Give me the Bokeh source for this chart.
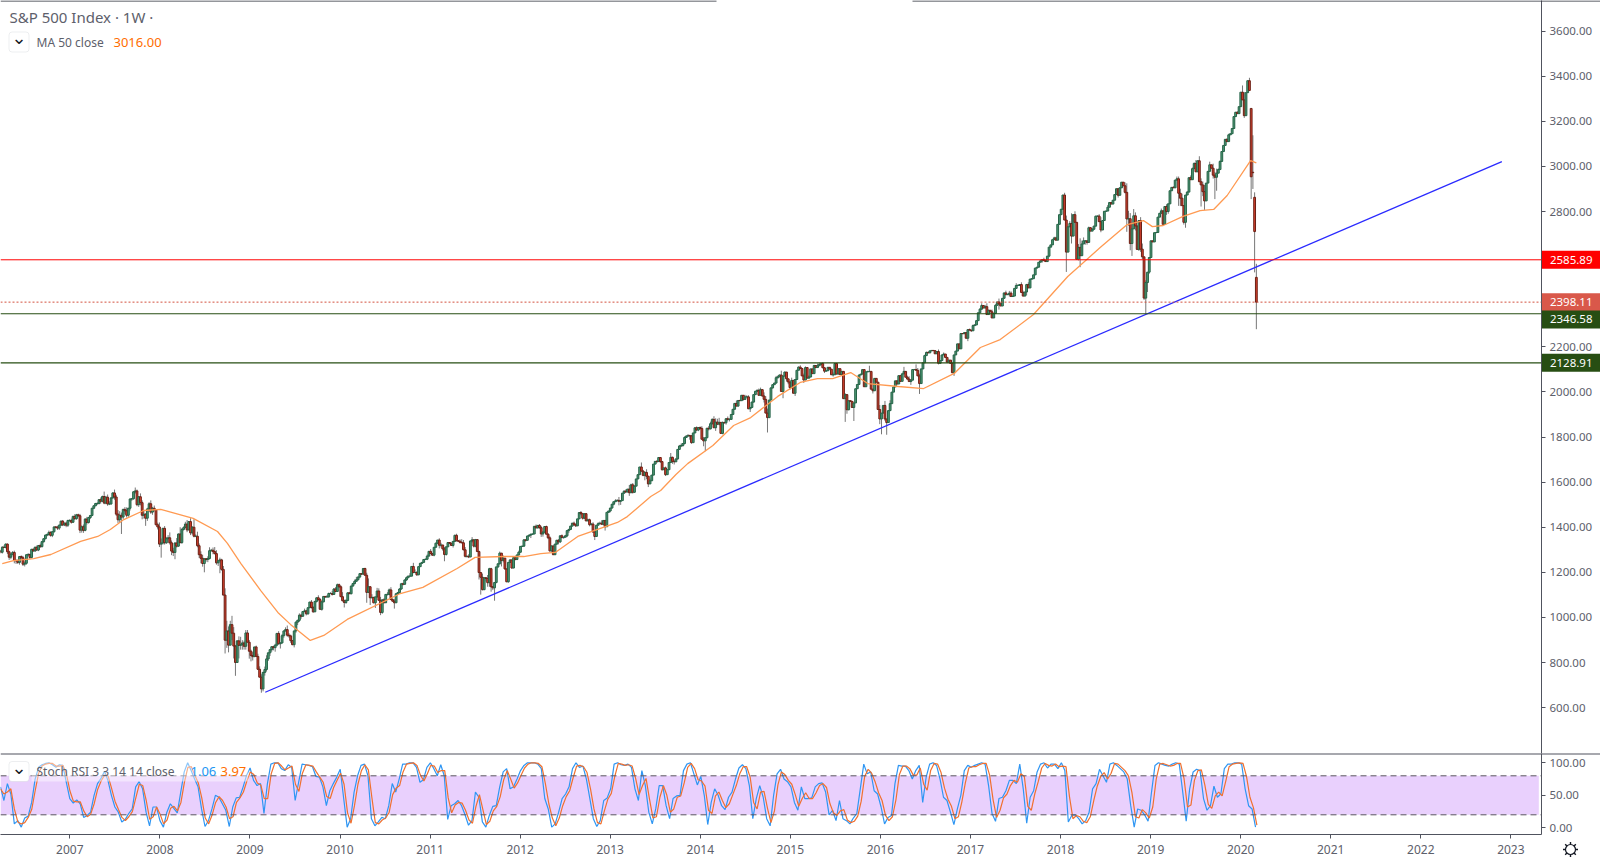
from bokeh.plotting import figure
from bokeh.models import (LinearAxis, FixedTicker, NumeralTickFormatter, Range1d, Span, Label,
                          BoxAnnotation, ColumnDataSource, Column)
from bokeh.embed import file_html
from bokeh.resources import INLINE
import numpy as np

TITLE = "S&P 500 Index · 1W ·"
MA_NAME = "MA 50 close"
MA_LAST = "3016.00"
STOCH_NAME = "Stoch RSI 3 3 14 14 close"
K_LAST = "1.06"
D_LAST = "3.97"

# weekly closes
c2006 = [1295,1289,1311,1310,1325,1291,1267,1280,1288,1252,1251,1244,1270,1265,1236,1240,1278,1279,1266,1302,1295,1311,1299,1319,1314,1336,1349,1365,1368,1377,1364,1380,1401,1400,1396,1409,1427,1410,1418]
c2007 = [1409,1430,1430,1422,1448,1438,1455,1451,1387,1402,1386,1436,1421,1443,1452,1484,1495,1505,1505,1522,1515,1536,1507,1533,1503,1503,1530,1552,1534,1458,1433,1453,1445,1479,1473,1453,1484,1525,1526,1557,1561,1500,1535,1509,1453,1458,1440,1481,1504,1467,1484,1478]
c2008 = [1411,1401,1325,1330,1395,1331,1349,1353,1331,1294,1288,1330,1316,1370,1332,1390,1398,1414,1388,1425,1375,1400,1360,1360,1318,1278,1262,1239,1260,1257,1261,1296,1298,1292,1283,1242,1251,1255,1213,1099,899,940,877,968,930,873,800,896,876,879,887,872]
c2009 = [931,890,850,831,826,869,827,770,735,683,756,769,816,843,857,870,866,877,929,883,887,919,940,946,921,918,897,879,940,979,987,1010,1005,1026,1029,1016,1043,1068,1044,1025,1071,1087,1079,1036,1069,1093,1091,1091,1106,1106,1102,1126,1115]
c2010 = [1145,1136,1092,1074,1066,1075,1109,1105,1139,1150,1160,1167,1179,1194,1192,1217,1187,1111,1136,1087,1089,1065,1091,1117,1076,1022,1078,1065,1102,1102,1122,1079,1072,1065,1105,1110,1126,1149,1147,1166,1176,1183,1183,1226,1199,1199,1189,1225,1240,1244,1257,1258]
c2011 = [1272,1293,1283,1276,1311,1329,1343,1320,1321,1304,1279,1313,1332,1329,1319,1337,1364,1340,1338,1333,1331,1300,1271,1271,1268,1339,1344,1316,1345,1292,1199,1178,1123,1176,1173,1154,1216,1136,1131,1155,1224,1238,1285,1253,1263,1215,1158,1244,1255,1219,1265,1257]
c2012 = [1277,1289,1315,1316,1344,1342,1361,1365,1369,1370,1404,1397,1408,1398,1370,1378,1403,1369,1353,1295,1317,1278,1325,1342,1335,1362,1354,1356,1362,1385,1390,1405,1418,1411,1406,1437,1465,1460,1440,1460,1428,1433,1411,1414,1379,1359,1409,1416,1418,1413,1430,1402]
c2013 = [1466,1472,1485,1502,1513,1517,1519,1515,1518,1551,1560,1556,1569,1553,1588,1555,1582,1614,1633,1667,1649,1630,1643,1626,1592,1606,1631,1680,1692,1691,1709,1691,1655,1663,1633,1655,1687,1710,1692,1690,1703,1745,1760,1762,1771,1798,1804,1806,1805,1775,1818,1841]
c2014 = [1831,1842,1838,1790,1783,1797,1839,1836,1859,1878,1841,1866,1857,1865,1816,1864,1863,1881,1878,1878,1900,1923,1949,1937,1962,1961,1985,1967,1978,1978,1925,1931,1955,1988,2003,2007,1985,2010,1982,1967,1906,1886,1964,2018,2032,2039,2063,2067,2075,2002,2070,2088]
c2015 = [2058,2044,2019,2051,1994,2055,2096,2110,2104,2071,2053,2108,2061,2066,2102,2081,2117,2108,2116,2122,2126,2107,2092,2094,2109,2101,2076,2076,2126,2079,2103,2077,2091,1970,1988,1921,1961,1958,1931,1951,2014,2033,2075,2079,2099,2023,2089,2090,2091,2012,2005,2060,2043]
c2016 = [1922,1880,1906,1940,1880,1864,1917,1948,1999,2022,2049,2035,2072,2047,2080,2091,2065,2057,2046,2052,2099,2099,2096,2071,2037,2102,2129,2161,2175,2173,2182,2184,2183,2169,2179,2127,2139,2164,2168,2153,2132,2141,2126,2085,2164,2181,2213,2191,2259,2258,2263,2238]
c2017 = [2276,2274,2271,2294,2297,2316,2351,2367,2383,2372,2378,2343,2362,2355,2328,2348,2384,2399,2390,2381,2415,2439,2431,2433,2438,2423,2425,2459,2472,2472,2476,2441,2425,2443,2476,2461,2500,2502,2519,2549,2553,2575,2581,2587,2582,2578,2602,2642,2652,2675,2683,2673]
c2018 = [2743,2786,2810,2873,2762,2620,2732,2747,2691,2786,2752,2588,2641,2604,2656,2670,2670,2663,2728,2713,2721,2735,2779,2780,2755,2718,2760,2801,2802,2819,2840,2833,2850,2875,2901,2872,2905,2930,2914,2885,2767,2768,2658,2723,2781,2736,2632,2760,2633,2599,2416,2485]
c2019 = [2531,2596,2670,2665,2706,2707,2775,2792,2803,2743,2822,2800,2834,2892,2907,2905,2939,2945,2881,2859,2826,2752,2873,2886,2950,2941,2990,3013,2976,3025,2932,2918,2888,2847,2926,2978,3007,2992,2961,2952,2970,2986,3022,3066,3093,3120,3110,3140,3145,3168,3221,3240]
c2020 = [3234,3265,3329,3295,3225,3327,3380,3337,2954,2972,2711,2398]
# gap opens of the last four weeks
last_opens = [3257,2974,2863,2508]

# lower wick length below the body, per week
d2006 = [3,5,6,2,4,10,12,9,5,12,14,7,10,5,8,10,6,6,8,4,4,5,5,5,6,4,5,3,5,6,6,8,4,5,8,8,4,5,5]
d2007 = [9,8,6,6,3,6,5,6,13,11,11,4,9,5,7,3,4,2,7,4,10,3,5,5,8,5,3,4,12,8,14,14,75,10,15,10,7,10,8,4,8,7,10,12,18,15,34,12,9,8,12,8]
d2008 = [3,11,13,60,7,8,5,20,8,18,16,30,6,3,4,6,5,2,10,2,10,8,5,4,7,15,22,14,39,10,12,4,4,12,4,8,14,55,6,1,59,34,32,0,31,55,59,0,58,19,22,15]
d2009 = [15,0,33,26,17,2,0,3,1,17,11,14,9,9,14,9,12,18,5,3,21,3,9,2,7,8,10,2,12,8,13,7,11,1,3,7,4,2,5,5,2,5,5,0,6,2,5,2,4,2,5,2,3]
d2010 = [2,6,2,3,22,6,2,0,3,2,4,1,3,5,4,2,2,46,3,32,2,3,23,3,3,12,6,2,1,5,4,2,3,26,1,3,4,4,5,3,4,2,0,1,3,2,5,2,1,3,2,2]
d2011 = [4,3,1,3,5,2,3,14,10,8,30,5,1,4,2,9,2,3,3,5,3,3,5,6,5,1,7,6,5,0,31,77,3,2,14,18,18,22,10,57,4,4,4,27,9,3,2,4,3,3,1,4]
d2012 = [3,3,2,3,3,6,2,3,13,3,1,2,3,5,13,12,3,1,6,4,4,1,0,4,11,5,3,5,2,6,10,0,2,2,5,1,0,7,6,3,1,1,7,2,4,16,0,1,1,1,5,17]
d2013 = [0,3,6,2,5,1,2,18,16,0,2,2,1,14,2,6,3,0,0,0,4,4,22,13,14,0,0,0,1,6,1,6,4,1,6,0,0,1,11,12,0,4,0,5,5,4,0,0,17,5,0,0]
d2014 = [4,5,5,0,24,46,3,7,2,4,0,14,4,5,2,4,4,8,8,9,0,2,2,0,1,1,1,6,3,0,0,14,1,3,2,1,0,1,3,14,0,66,2,0,4,0,0,4,0,0,30,0]
d2015 = [12,10,10,2,0,12,0,0,0,0,13,2,0,0,0,0,0,1,0,0,4,2,8,0,0,0,0,8,0,0,0,0,0,0,103,18,3,1,0,60,0,1,0,0,0,0,0,0,0,0,12,0,0]
d2016 = [0,23,68,0,8,54,0,2,0,0,0,2,0,3,0,0,0,3,0,15,0,0,0,0,46,0,0,0,0,0,0,0,0,0,0,5,3,0,0,3,4,0,0,2,14,0,0,0,0,0,0,0]
d2017 = [13,0,5,0,0,0,0,0,3,0,0,0,0,0,0,0,0,0,25,0,0,0,0,0,10,0,0,0,0,0,0,0,0,0,15,0,0,0,0,0,0,0,0,8,0,0,0,5,0,0,0,0]
d2018 = [0,0,0,0,0,88,0,0,33,0,0,3,5,51,0,0,17,10,0,0,0,0,0,0,0,10,0,0,0,0,0,0,0,0,0,10,0,0,0,5,57,30,30,55,0,20,2,7,12,10,8,70]
d2019 = [42,7,0,0,0,0,0,0,0,0,0,15,10,0,0,0,0,0,56,35,0,10,24,0,0,0,0,0,0,0,0,96,20,40,0,0,0,0,15,97,60,0,0,0,0,0,0,0,0,0,0,0]
d2020 = [0,0,0,0,10,0,0,0,99,72,181,120]

# upper wick length above the body, per week
u2006 = [6,5,5,8,3,3,5,6,6,8,6,6,2,5,8,8,2,6,4,2,4,3,8,2,8,3,2,2,3,8,5,2,3,4,6,3,2,5,3]
u2007 = [6,3,5,8,3,10,4,5,8,6,10,4,10,3,2,2,3,3,6,3,10,4,22,6,12,12,3,3,15,10,18,18,12,3,10,15,2,3,3,3,15,6,3,15,10,15,4,5,7,15,6,12]
u2008 = [0,9,20,20,2,10,8,12,24,10,15,3,22,2,30,6,6,10,18,1,15,5,35,8,20,10,15,16,2,3,10,15,6,12,20,15,5,10,5,15,30,45,20,17,39,27,5,2,20,35,12,10]
u2009 = [13,13,10,7,15,0,6,12,13,13,3,13,16,2,3,2,4,6,0,10,3,7,2,10,18,9,6,3,1,3,3,8,6,2,10,5,2,1,9,6,2,2,11,7,5,2,2,8,4,6,12,4,9]
u2010 = [5,5,6,20,5,6,3,4,2,3,8,13,3,3,2,2,3,11,37,3,14,2,1,14,12,15,2,7,1,10,6,12,5,9,1,3,4,4,5,3,5,2,13,1,16,14,7,2,1,1,1,3]
u2011 = [7,1,10,3,1,3,0,8,10,1,8,1,1,1,1,1,3,7,1,8,14,12,12,2,9,1,12,2,3,0,4,0,16,0,0,15,4,4,3,2,0,0,7,0,12,0,2,0,2,0,0,2]
u2012 = [1,7,0,1,1,0,1,1,2,1,1,8,1,6,8,4,0,4,4,7,2,0,0,2,5,0,6,0,4,0,3,1,1,7,5,0,1,7,1,1,3,5,5,5,8,2,0,6,7,13,0,0]
u2013 = [0,0,0,1,0,7,5,15,0,1,3,8,0,18,5,8,4,0,1,0,20,5,5,14,2,9,0,0,1,6,0,1,3,1,6,0,0,19,3,5,0,0,5,9,2,5,4,7,4,4,0,0]
u2014 = [6,0,5,10,10,0,0,10,9,5,14,17,15,20,0,5,4,3,10,5,0,0,0,13,0,3,0,1,9,7,7,0,1,0,0,4,8,9,2,16,14,20,0,0,2,2,8,6,2,19,0,2]
u2015 = [0,0,0,12,0,0,0,3,8,0,10,5,0,7,0,0,3,0,10,7,0,5,3,0,0,0,0,10,0,0,0,0,2,0,6,0,0,0,0,0,0,0,0,0,0,0,0,4,25,0,0,0,0]
u2016 = [0,20,0,0,20,0,0,15,0,0,0,2,0,0,3,20,0,7,12,5,0,3,23,10,10,0,0,4,4,4,0,0,0,0,0,9,0,0,7,0,0,1,0,4,0,0,0,0,0,1,1,0]
u2017 = [3,5,0,5,3,0,0,4,10,0,8,15,3,0,10,0,5,0,15,5,0,0,10,0,10,8,0,0,10,5,0,10,8,0,3,10,0,0,0,0,0,0,5,0,8,5,0,0,0,0,5,5]
u2018 = [0,0,0,0,10,20,3,10,45,0,15,0,15,40,15,15,0,0,5,3,6,2,3,2,8,20,0,0,0,10,0,0,0,0,0,0,0,0,0,15,40,35,25,20,30,15,0,0,15,25,0,10]
u2019 = [0,0,0,0,0,0,0,2,10,0,0,10,0,0,0,5,0,10,10,20,20,0,0,5,0,10,5,5,15,0,20,15,15,30,0,0,14,0,20,15,20,5,5,0,0,0,5,5,0,0,0,2]
u2020 = [5,0,0,30,35,0,0,13,0,164,22,60]

# MA 50 (year, value)
ma_years = [2006.25,2006.375,2006.60,2006.79,2007.12,2007.31,2007.45,2007.60,2007.82,2008.01,2008.37,2008.64,2008.75,2008.90,2009.12,2009.31,2009.45,2009.67,2009.82,2010.08,2010.67,2010.92,2011.30,2011.50,2011.82,2012.04,2012.23,2012.39,2012.64,2013.08,2013.19,2013.45,2013.56,2013.73,2013.86,2014.14,2014.37,2014.56,2014.86,2015.11,2015.30,2015.47,2015.67,2015.86,2016.20,2016.48,2016.82,2017.11,2017.33,2017.70,2018.08,2018.44,2018.74,2018.92,2019.02,2019.14,2019.36,2019.55,2019.70,2019.85,2020.11,2020.174]
ma_values = [1239,1252,1261,1279,1337,1359,1390,1434,1474,1479,1439,1381,1328,1239,1119,1022,969,898,920,991,1106,1133,1217,1266,1270,1270,1283,1288,1359,1421,1447,1536,1563,1634,1682,1762,1851,1886,1980,2042,2059,2059,2086,2037,2024,2015,2082,2197,2232,2343,2512,2640,2742,2760,2733,2738,2778,2804,2809,2871,3026,3016]

trend_years = [2009.17, 2022.90]
trend_values = [668, 3021]

# levels
level_red = 2585.89
level_last = 2398.11
level_green_a = 2346.58
level_green_b = 2128.91

price_ticks = [600,800,1000,1200,1400,1600,1800,2000,2200,2800,3000,3200,3400,3600]
stoch_ticks = [0,50,100]
stoch_low, stoch_high = 20, 80
year_ticks = list(range(2007,2024))

# Stoch RSI, sampled every other week
stoch_k = [63,42,68,52,6,11,1,15,18,39,75,93,97,99,100,97,93,97,96,70,45,38,43,37,16,19,24,50,68,76,87,73,50,32,24,9,13,22,29,63,71,60,24,3,32,32,11,1,24,37,30,23,55,86,100,88,75,63,29,2,11,29,50,47,37,27,2,32,46,47,63,81,92,73,65,68,22,68,98,100,100,91,88,97,93,42,70,98,97,96,94,79,78,
 63,34,57,68,78,90,45,1,14,55,80,96,98,80,14,3,9,16,14,34,68,55,75,98,98,100,100,93,70,74,93,100,91,80,97,80,13,34,37,42,34,20,4,11,55,47,9,1,19,33,34,63,86,91,60,63,75,88,96,100,100,100,98,91,45,29,1,6,24,45,52,63,91,100,93,95,75,45,14,2,11,42,46,60,98,100,97,96,98,93,60,42,
 88,65,24,6,29,65,65,34,14,45,49,50,88,98,100,83,66,79,50,5,39,60,50,34,28,47,55,75,92,97,91,65,14,45,65,47,14,3,50,83,90,75,71,63,39,27,63,45,45,46,63,68,69,55,20,27,11,42,14,11,6,15,22,60,98,83,86,57,52,32,6,16,19,68,96,95,95,88,75,88,96,39,78,98,100,96,75,47,42,24,5,29,
 50,88,96,93,96,98,100,98,65,22,10,45,47,57,73,73,68,98,60,7,47,57,86,98,100,92,98,98,91,100,88,9,19,20,14,6,11,24,60,68,90,80,70,98,100,96,91,86,75,34,1,29,27,20,10,55,96,100,98,96,95,98,100,98,55,10,60,86,90,88,45,27,34,64,47,52,91,98,98,100,100,98,60,34,29,1.06]
stoch_d = [60,52,55,60,29,9,6,8,16,28,57,84,95,98,99,99,95,95,96,83,57,41,40,40,26,17,21,37,59,72,81,80,61,41,28,16,11,17,25,46,67,65,42,13,17,32,21,6,12,30,33,26,39,70,93,94,81,69,46,15,6,20,39,48,42,32,14,17,39,46,55,72,86,82,69,66,45,45,83,99,100,95,89,92,95,67,56,84,97,96,95,86,78,
 70,48,45,62,73,84,67,23,7,34,67,88,97,89,47,8,6,12,15,24,51,61,65,86,98,99,100,96,81,72,83,96,95,85,88,88,46,23,35,39,38,27,12,7,33,51,28,5,10,26,33,48,74,88,75,61,69,81,92,98,100,100,99,94,68,37,15,3,15,34,48,57,77,95,96,94,85,60,29,8,6,26,44,53,79,99,98,96,97,95,76,51,
 65,76,44,15,17,47,65,50,24,29,47,49,69,93,99,91,74,72,64,27,22,49,55,42,31,37,51,65,83,94,94,78,39,29,55,56,30,8,26,66,86,82,73,67,51,33,45,54,45,45,54,65,68,62,37,23,19,26,28,12,8,10,18,41,79,90,84,71,54,42,19,11,17,43,82,95,95,91,81,81,92,67,58,88,99,98,85,61,44,33,14,17,
 40,69,92,94,94,97,99,99,81,43,16,27,46,52,65,73,70,83,79,33,27,52,71,92,99,96,95,98,94,95,94,48,14,19,17,10,8,17,42,64,79,85,75,84,99,98,93,88,80,54,17,15,28,23,15,32,75,98,99,97,95,96,99,99,76,32,35,73,88,89,66,36,30,49,55,49,71,94,98,99,100,99,79,47,31,3.97]

# ---------------- assemble
FONT = "Noto Sans"
TXT = "#5d606b"
AX = "#50535e"
ROWS = [(c2006,d2006,u2006),(c2007,d2007,u2007),(c2008,d2008,u2008),(c2009,d2009,u2009),(c2010,d2010,u2010),
        (c2011,d2011,u2011),(c2012,d2012,u2012),(c2013,d2013,u2013),(c2014,d2014,u2014),(c2015,d2015,u2015),
        (c2016,d2016,u2016),(c2017,d2017,u2017),(c2018,d2018,u2018),(c2019,d2019,u2019),(c2020,d2020,u2020)]
def fit(a, n):
    return (list(a) + [0]*n)[:n]
closes, dn, up = [], [], []
for c, d, u in ROWS:
    closes += c; dn += fit(d, len(c)); up += fit(u, len(c))
closes = np.array(closes, float)
opens = np.r_[closes[0], closes[:-1]]
opens[-len(last_opens):] = last_opens
dn = np.array(dn, float); up = np.array(up, float)
WEEK = 1/52.14
LAST_BAR = 2020.174
xs = LAST_BAR - (len(closes)-1-np.arange(len(closes)))*WEEK
highs = np.maximum(opens, closes) + up
lows = np.minimum(opens, closes) - dn
rising = closes >= opens
src = ColumnDataSource(dict(x=xs, o=opens, c=closes, h=highs, l=lows,
    fill=["#4f9a76" if r else "#d9402e" for r in rising],
    edge=["#256347" if r else "#6a2015" for r in rising]))

W, H_TOP, H_BOT = 1600, 753, 107
X0, AXIS_X, X_RIGHT = 2006.2305, 2023.34, 2023.996
Y_TOP, Y_BOT = 3735.7, 396.5
xr = Range1d(X0, AXIS_X)

def style_axis(ax):
    ax.axis_line_color = AX
    ax.major_tick_line_color = AX
    ax.major_tick_in = 0
    ax.major_tick_out = 4
    ax.minor_tick_line_color = None
    ax.major_label_text_font = FONT
    ax.major_label_text_font_size = "11.5px"
    ax.major_label_text_color = TXT
    ax.major_label_standoff = 4

top = figure(width=W, height=H_TOP, x_range=xr, y_range=Range1d(Y_BOT, Y_TOP),
             output_backend="svg", toolbar_location=None, x_axis_location=None, y_axis_location=None,
             min_border_left=0, min_border_top=0, min_border_bottom=0, min_border_right=59)
top.grid.visible = False
top.outline_line_color = None
rax = LinearAxis(ticker=FixedTicker(ticks=price_ticks), formatter=NumeralTickFormatter(format="0.00"))
style_axis(rax)
top.add_layout(rax, "right")

top.segment("x", "h", "x", "l", source=src, line_color="#777777", line_width=1)
top.vbar("x", 0.02, "o", "c", source=src, fill_color="fill", line_color="edge", line_width=1)
top.line(ma_years, ma_values, line_color="#ff9a52", line_width=1.3)
top.line(trend_years, trend_values, line_color="#2a2aff", line_width=1.3)

for v, col, dash, lw in [(level_red, "#ff0000", "solid", 1), (level_last, "#d3503f", [2,2], 1),
                         (level_green_a, "#274e13", "solid", 1.2), (level_green_b, "#274e13", "solid", 1.2)]:
    top.add_layout(Span(location=v, dimension="width", line_color=col, line_width=lw, line_dash=dash))

bot = figure(width=W, height=H_BOT, x_range=xr, y_range=Range1d(-10.3, 114.3),
             output_backend="svg", toolbar_location=None, y_axis_location=None, x_axis_location="below",
             min_border_left=0, min_border_top=0, min_border_bottom=26, min_border_right=59)
bot.grid.visible = False
bot.outline_line_color = None
style_axis(bot.xaxis[0])
bot.xaxis[0].ticker = FixedTicker(ticks=year_ticks)
bot.xaxis[0].formatter = NumeralTickFormatter(format="0")
bot.xaxis[0].major_label_standoff = 6
bot.xaxis[0].major_label_text_font_size = "12px"
rax2 = LinearAxis(ticker=FixedTicker(ticks=stoch_ticks), formatter=NumeralTickFormatter(format="0.00"))
style_axis(rax2)
bot.add_layout(rax2, "right")
bot.add_layout(BoxAnnotation(bottom=stoch_low, top=stoch_high, right=2023.31, fill_color="#e9d0fd", fill_alpha=1, line_color=None, level="underlay"))
for v in (stoch_high, stoch_low):
    bot.add_layout(Span(location=v, dimension="width", line_color="#5a5660", line_dash=[6,4], line_width=1))
bot.line(np.linspace(2006.23, 2020.165, len(stoch_k)), stoch_k, line_color="#2f96f3", line_width=1.2)
bot.line(np.linspace(2006.23, 2020.18, len(stoch_d)), stoch_d, line_color="#f0702f", line_width=1.2)

# transparent sheet over the whole page: price tags, legends, borders
H = H_TOP + H_BOT
Y_FULL = Y_TOP-(Y_TOP-Y_BOT)*H/H_TOP
over = figure(width=W, height=H, x_range=Range1d(X0, X_RIGHT), y_range=Range1d(Y_FULL, Y_TOP),
              output_backend="svg", toolbar_location=None, x_axis_location=None, y_axis_location=None,
              min_border=0, background_fill_color=None, border_fill_color=None, outline_line_color=None,
              margin=(-H, 0, 0, 0))
over.grid.visible = False

for v, col, shift in [(level_red, "#ff0000", 0), (level_last, "#d9584a", 0), (level_green_a, "#274e13", -5.7), (level_green_b, "#274e13", 0)]:
    over.add_layout(Label(x=AXIS_X+0.006, y=v, y_offset=shift, text=f"{v:.2f}", text_color="#ffffff",
                          text_font=FONT, text_font_size="11.5px", text_baseline="middle", anchor="center_left",
                          background_fill_color=col, padding=(8, 9, 5, 5)))

def txt(x, y, text, color=TXT, size="12px", font=FONT):
    over.add_layout(Label(x=x, x_units="screen", y=H-y, y_units="screen", text=text, text_color=color,
                          text_font=font, text_font_size=size, text_align="left", text_baseline="middle"))

def box(x0, x1, y0, y1, **kw):
    over.add_layout(BoxAnnotation(left=x0, right=x1, top=H-y0, bottom=H-y1, left_units="screen", right_units="screen",
                                  top_units="screen", bottom_units="screen", **kw))

box(0, 716, 0, 1, fill_color="#2a2e39", fill_alpha=1, line_color=None)
box(912, W, 0, 1, fill_color="#2a2e39", fill_alpha=1, line_color=None)
box(0, W, 753, 754, fill_color=AX, fill_alpha=1, line_color=None)
txt(9, 16.5, TITLE, size="15px")
box(8.5, 28.5, 31.5, 51.5, fill_alpha=0, line_color="#c4c6cc", line_width=1, border_radius=3)
txt(11, 37, "⌄", color="#131722", size="18px", font="DejaVu Sans")
txt(36, 41.5, MA_NAME)
txt(113, 41.5, MA_LAST, color="#ff6d00", size="13px")
box(31, 248, 761, 781, fill_color="#ffffff", fill_alpha=0.45, line_color=None)
box(8.5, 28.5, 761, 781, fill_color="#ffffff", fill_alpha=1, line_color="#c4c6cc", line_width=1, border_radius=3)
txt(11, 766.5, "⌄", color="#131722", size="18px", font="DejaVu Sans")
txt(36, 771, STOCH_NAME)
txt(190, 771, K_LAST, color="#2196f3", size="13px")
txt(220, 771, D_LAST, color="#ff6d00", size="13px")

# settings gear in the corner
gear_x = X0 + (X_RIGHT-X0)*1570/W
gear_y = Y_TOP - (Y_TOP-Y_FULL)*849/H
over.scatter([gear_x], [gear_y], marker="asterisk", size=15, line_color="#131722", line_width=1.4)
over.scatter([gear_x], [gear_y], marker="circle", size=10, fill_color="#ffffff", line_color="#131722", line_width=1.2)

panes = Column(children=[top, bot], spacing=0)
layout = Column(children=[panes, over], spacing=0)
open("out.html", "w").write(file_html(layout, INLINE))
